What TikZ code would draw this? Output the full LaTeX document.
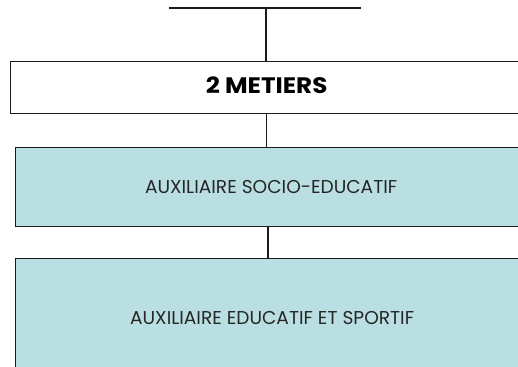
\documentclass[tikz,border=0pt]{standalone}
\usepackage{fontspec}
\setmainfont{Poppins}
\newfontfamily\titlefont{Poppins}[FakeStretch=1.1]
\newfontfamily\labelfont{Poppins}
\definecolor{boxblue}{HTML}{BADFE2}
\definecolor{linegray}{HTML}{1A1A1A}
\tikzset{
  conn/.style={draw=linegray, line width=1.3pt},
  whitebox/.style={draw=linegray, line width=1.3pt, fill=white, inner sep=0pt, anchor=north west, text=black},
  bluebox/.style={draw=linegray, line width=1.3pt, fill=boxblue, inner sep=0pt, anchor=north west, text=black!85,
    font=\labelfont\fontsize{18.6}{20}\selectfont},
}
\begin{document}
\begin{tikzpicture}[x=1pt,y=-1pt]
\useasboundingbox (0,0) rectangle (518,366);
\clip (0,0) rectangle (518,366);
\coordinate (tl) at (169,8);
\coordinate (tr) at (361,8);
\coordinate (top) at (266,8);
\node[whitebox, minimum width=512pt, minimum height=52pt, text depth=5pt, font=\titlefont\bfseries\fontsize{22.4}{24}\selectfont] (b1) at (10,61) {2 METIERS};
\node[bluebox, minimum width=511pt, minimum height=79pt] (b2) at (15,147) {AUXILIAIRE SOCIO-EDUCATIF};
\node[bluebox, minimum width=513pt, minimum height=118pt] (b3) at (15,258) {AUXILIAIRE EDUCATIF ET SPORTIF};
\coordinate (c3) at (268,226);
\draw[conn] (tl) -- (tr);
\draw[conn] (top) -- (top |- b1.north);
\draw[conn] (b1.south) -- (b1.south |- b2.north);
\draw[conn] (c3) -- (c3 |- b3.north);
\end{tikzpicture}
\end{document}
